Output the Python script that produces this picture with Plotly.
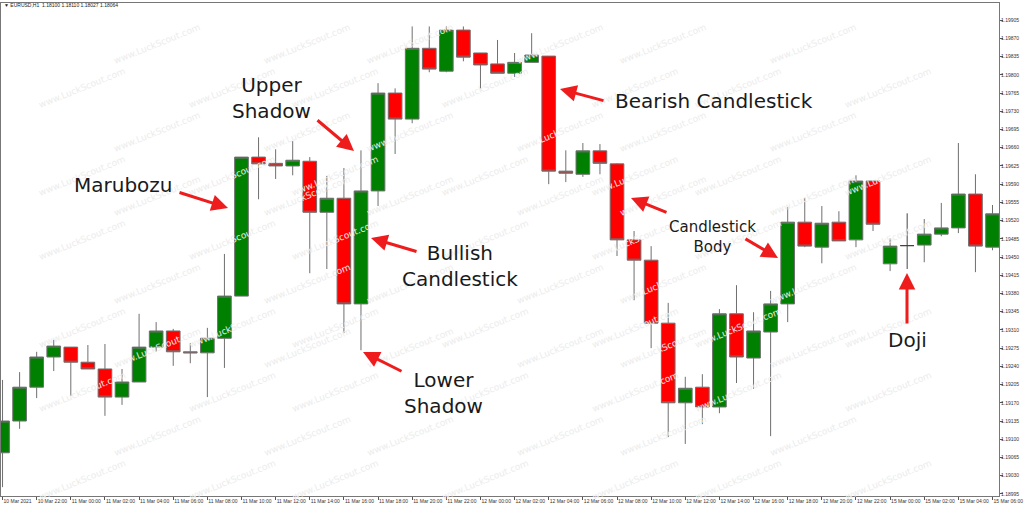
import plotly.graph_objects as go

# ---------------- data ----------------
tick_labels = ["10 Mar 2021", "10 Mar 22:00", "11 Mar 00:00", "11 Mar 02:00", "11 Mar 04:00",
               "11 Mar 06:00", "11 Mar 08:00", "11 Mar 10:00", "11 Mar 12:00", "11 Mar 14:00",
               "11 Mar 16:00", "11 Mar 18:00", "11 Mar 20:00", "11 Mar 22:00", "12 Mar 00:00",
               "12 Mar 02:00", "12 Mar 04:00", "12 Mar 06:00", "12 Mar 08:00", "12 Mar 10:00",
               "12 Mar 12:00", "12 Mar 14:00", "12 Mar 16:00", "12 Mar 18:00", "12 Mar 20:00",
               "12 Mar 22:00", "15 Mar 00:00", "15 Mar 02:00", "15 Mar 04:00", "15 Mar 06:00"]

opens = [1.19074, 1.19135, 1.19200, 1.19258, 1.19277, 1.19248, 1.19235, 1.19181, 1.19210, 1.19277,
         1.19308, 1.19268, 1.19266, 1.19294, 1.19375, 1.19642, 1.19630, 1.19625, 1.19634, 1.19536,
         1.19563, 1.19360, 1.19577, 1.19765, 1.19715, 1.19851, 1.19807, 1.19886, 1.19842, 1.19821,
         1.19803, 1.19824, 1.19836, 1.19615, 1.19609, 1.19654, 1.19629, 1.19483, 1.19444, 1.19323,
         1.19170, 1.19200, 1.19162, 1.19341, 1.19256, 1.19306, 1.19360, 1.19517, 1.19469, 1.19517,
         1.19483, 1.19596, 1.19437, 1.19472, 1.19473, 1.19494, 1.19506, 1.19571, 1.19469]
highs = [1.19214, 1.19229, 1.19268, 1.19291, 1.19277, 1.19281, 1.19283, 1.19235, 1.19341, 1.19325,
         1.19312, 1.19285, 1.19314, 1.19456, 1.19642, 1.19680, 1.19657, 1.19673, 1.19642, 1.19606,
         1.19621, 1.19655, 1.19784, 1.19774, 1.19893, 1.19893, 1.19893, 1.19893, 1.19842, 1.19867,
         1.19842, 1.19880, 1.19836, 1.19655, 1.19669, 1.19667, 1.19630, 1.19500, 1.19471, 1.19362,
         1.19220, 1.19225, 1.19350, 1.19396, 1.19344, 1.19385, 1.19546, 1.19563, 1.19548, 1.19538,
         1.19607, 1.19596, 1.19486, 1.19534, 1.19523, 1.19554, 1.19669, 1.19609, 1.19550]
lows = [1.19008, 1.19120, 1.19179, 1.19231, 1.19183, 1.19235, 1.19145, 1.19166, 1.19210, 1.19268,
        1.19241, 1.19246, 1.19181, 1.19237, 1.19375, 1.19561, 1.19600, 1.19607, 1.19419, 1.19427,
        1.19304, 1.19271, 1.19548, 1.19648, 1.19707, 1.19805, 1.19805, 1.19826, 1.19774, 1.19803,
        1.19796, 1.19824, 1.19590, 1.19594, 1.19604, 1.19609, 1.19452, 1.19367, 1.19275, 1.19104,
        1.19091, 1.19129, 1.19150, 1.19208, 1.19197, 1.19106, 1.19325, 1.19469, 1.19438, 1.19481,
        1.19469, 1.19500, 1.19423, 1.19427, 1.19440, 1.19490, 1.19496, 1.19421, 1.19463]
closes = [1.19135, 1.19200, 1.19258, 1.19279, 1.19248, 1.19235, 1.19181, 1.19210, 1.19277, 1.19308,
          1.19268, 1.19266, 1.19294, 1.19375, 1.19642, 1.19629, 1.19625, 1.19636, 1.19536, 1.19563,
          1.19360, 1.19577, 1.19765, 1.19715, 1.19851, 1.19811, 1.19886, 1.19834, 1.19819, 1.19803,
          1.19824, 1.19838, 1.19615, 1.19611, 1.19654, 1.19630, 1.19483, 1.19444, 1.19323, 1.19170,
          1.19198, 1.19162, 1.19341, 1.19258, 1.19308, 1.19360, 1.19517, 1.19471, 1.19515, 1.19481,
          1.19596, 1.19513, 1.19471, 1.19472, 1.19494, 1.19506, 1.19571, 1.19471, 1.19533]
doji_index = 53

y_tick_start = 1.18995
y_tick_step = 0.00035
y_tick_count = 27

header = "\u25bc EURUSD,H1  1.18100 1.18110 1.18027 1.18064"
watermark = "www.LuckScout.com"

# ---------------- geometry helpers (layout only) ----------------
W, H = 1024, 510
ML, MR, MT, MB = 1, 25, 3, 14
PW, PH = W - ML - MR, H - MT - MB


def px(xp):
    return (xp - ML) / PW


def py(yp):
    return (H - MB - yp) / PH


n = len(opens)
xs = list(range(n))
main_idx = [i for i in xs if i != doji_index]

fig = go.Figure()

fig.add_trace(go.Candlestick(
    x=main_idx,
    open=[opens[i] for i in main_idx],
    high=[highs[i] for i in main_idx],
    low=[lows[i] for i in main_idx],
    close=[closes[i] for i in main_idx],
    increasing=dict(fillcolor="#008000", line=dict(color="#6f6f6f", width=1)),
    decreasing=dict(fillcolor="#ff0000", line=dict(color="#6f6f6f", width=1)),
    whiskerwidth=0,
    hoverinfo="skip",
    showlegend=False,
))
fig.add_trace(go.Candlestick(
    x=[doji_index],
    open=[opens[doji_index]],
    high=[highs[doji_index]],
    low=[lows[doji_index]],
    close=[closes[doji_index]],
    increasing=dict(fillcolor="#333333", line=dict(color="#444444", width=1)),
    decreasing=dict(fillcolor="#333333", line=dict(color="#444444", width=1)),
    whiskerwidth=0,
    hoverinfo="skip",
    showlegend=False,
))

annotations = []

# watermarks
for row in range(12):
    for col in range(8):
        wx = -40 + col * 150 + (row % 2) * 75
        wy = 20 + row * 44
        if wx < 10 or wx > 990:
            continue
        annotations.append(dict(
            x=px(wx), y=py(wy), xref="paper", yref="paper", text=watermark,
            showarrow=False, textangle=-22,
            font=dict(family="DejaVu Sans", size=9, color="#ececec"),
        ))

# header
annotations.append(dict(
    x=px(3), y=py(5), xref="paper", yref="paper", text=header, showarrow=False,
    xanchor="left", yanchor="middle", borderpad=0,
    font=dict(family="Liberation Sans", size=5, color="#222222"),
))

labels = [
    ("Marubozu", 123.5, 185, 20),
    ("Upper<br>Shadow", 271, 98, 20),
    ("Bullish<br>Candlestick", 460, 266, 20),
    ("Lower<br>Shadow", 443, 393, 20),
    ("Bearish Candlestick", 714, 101, 20),
    ("Candlestick<br>Body", 712, 237, 15),
    ("Doji", 907, 340, 20),
]
for text, lx, ly, size in labels:
    annotations.append(dict(
        x=px(lx), y=py(ly), xref="paper", yref="paper", text=text, showarrow=False,
        xanchor="center", yanchor="middle", align="center",
        font=dict(family="DejaVu Sans", size=size, color="#1a1a1a"),
    ))

# arrows: (head_x, head_y, tail_x, tail_y)
arrows = [
    (228, 208, 178, 192),
    (354, 151, 316, 119),
    (371, 238, 418, 252),
    (363, 352, 403, 372),
    (560, 89, 605, 101),
    (631, 198, 668, 213),
    (778, 258, 744, 238),
    (907, 273, 907, 325),
]
for hx, hy, tx, ty in arrows:
    annotations.append(dict(
        x=px(hx), y=py(hy), xref="paper", yref="paper", text="",
        showarrow=True, ax=tx - hx, ay=ty - hy, axref="pixel", ayref="pixel",
        arrowhead=2, arrowsize=1.1, arrowwidth=3, arrowcolor="#ee1c1c", standoff=0,
    ))

y_ticks = [round(y_tick_start + i * y_tick_step, 5) for i in range(y_tick_count)]

fig.update_layout(
    width=W, height=H,
    margin=dict(l=ML, r=MR, t=MT, b=MB, autoexpand=False),
    paper_bgcolor="white", plot_bgcolor="white",
    boxgap=0.2, boxgroupgap=0,
    annotations=annotations,
    xaxis=dict(
        range=[-0.09, 58.38], rangeslider=dict(visible=False),
        tickmode="array", tickvals=list(range(0, n, 2)), ticktext=tick_labels,
        ticks="outside", ticklen=3, tickcolor="#555555", tickangle=0,
        ticklabelposition="outside right",
        tickfont=dict(family="Liberation Sans", size=5, color="#333333"),
        showgrid=False, zeroline=False, automargin=False,
        showline=True, mirror=True, linecolor="#777777", linewidth=1,
        fixedrange=True,
    ),
    yaxis=dict(
        side="right", range=[1.18991, 1.19938],
        tickmode="array", tickvals=y_ticks, ticktext=[f"{v:.5f}" for v in y_ticks],
        ticks="outside", ticklen=3, tickcolor="#555555", ticklabelstandoff=-3,
        tickfont=dict(family="Liberation Sans", size=5, color="#333333"),
        showgrid=False, zeroline=False, automargin=False,
        showline=True, mirror=True, linecolor="#777777", linewidth=1,
        fixedrange=True,
    ),
)

fig.write_html(
    "out.html",
    config={"displayModeBar": False},
    post_script="document.body.style.margin='0';document.body.style.overflow='hidden';",
)
